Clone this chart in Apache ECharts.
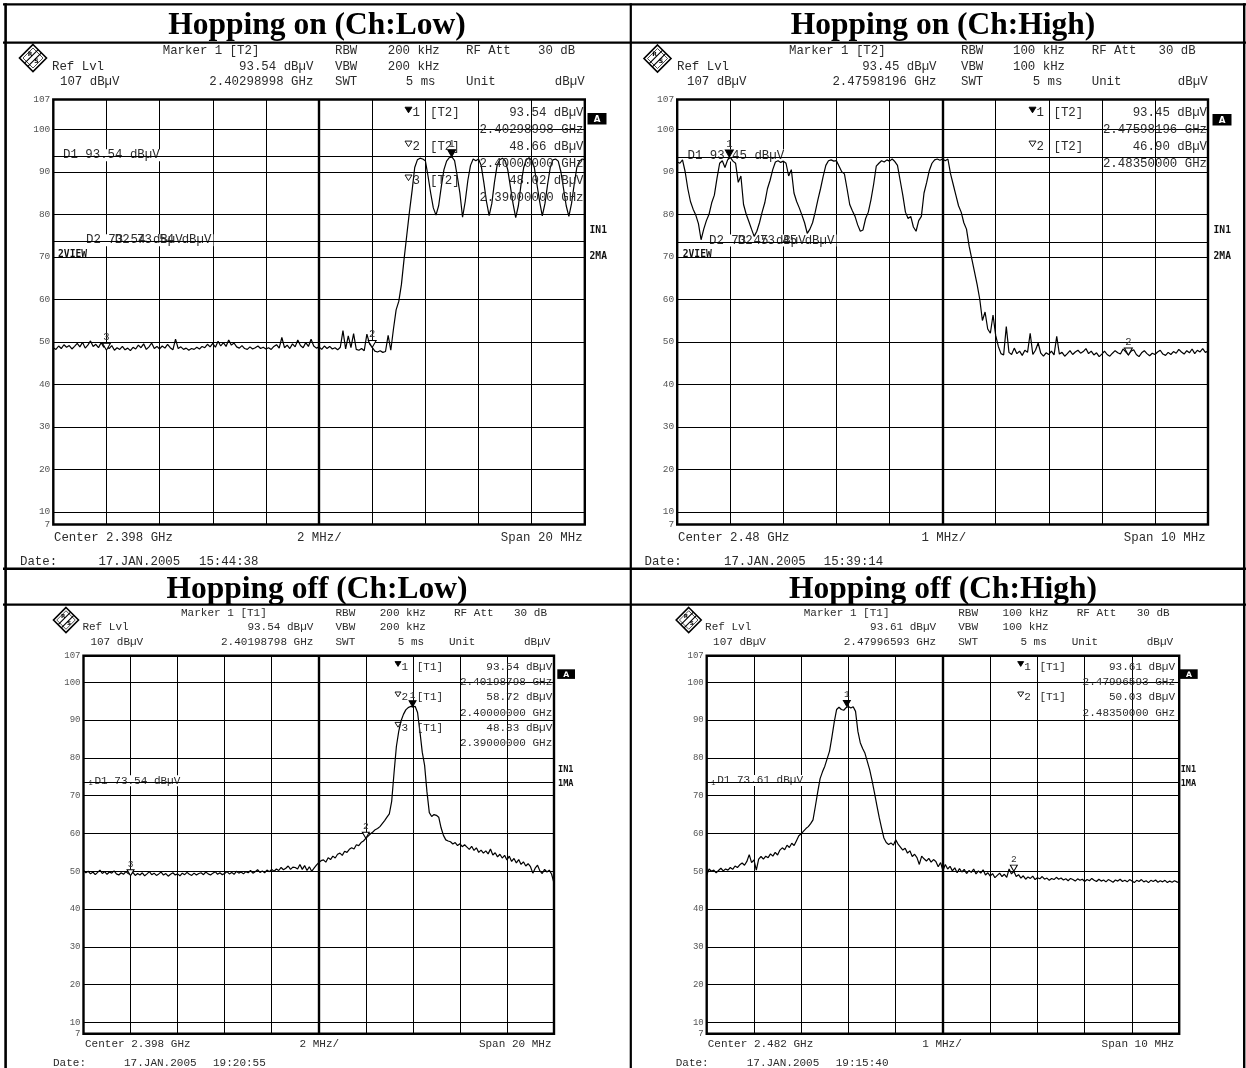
<!DOCTYPE html>
<html>
<head>
<meta charset="utf-8">
<title>Hopping spectra</title>
<script src="https://cdn.jsdelivr.net/npm/echarts@6.0.0/dist/echarts.min.js"></script>
<style>
html,body{margin:0;padding:0;background:#fff;}
#chart{width:1246px;height:1068px;}
</style>
</head>
<body>
<div id="chart"></div>
<script>
// ================= DATA =================
const panelTitles = ['Hopping on (Ch:Low)', 'Hopping on (Ch:High)', 'Hopping off (Ch:Low)', 'Hopping off (Ch:High)'];
const freqMin = [2388, 2475, 2388, 2477];      // MHz
const freqMax = [2408, 2485, 2408, 2487];
const freqDiv = [2, 1, 2, 1];
const freqCenter = [2398, 2480, 2398, 2482];
const sweepStep = [0.1, 0.05, 0.1, 0.05];      // MHz between trace points
const levelMin = 7, levelMax = 107;           // dBuV

const q1Level = [
48.6,48.2,49.0,48.4,49.3,48.7,49.1,48.3,48.9,49.6,
48.8,49.9,48.5,49.2,50.2,48.9,49.4,48.6,49.8,48.7,
49.0,48.4,49.1,48.0,48.6,48.2,48.9,48.1,48.5,47.9,
48.7,48.3,49.2,48.6,49.5,48.2,48.8,49.7,48.4,48.9,
48.3,49.0,48.5,49.4,48.6,48.1,50.6,48.4,48.8,48.2,
48.5,48.0,48.4,48.2,48.7,48.3,48.9,48.6,49.4,48.8,
49.6,48.7,50.1,49.0,49.8,48.9,50.4,49.2,49.7,48.8,
48.5,49.1,48.4,48.2,48.8,48.3,48.6,49.0,48.4,48.7,
48.3,48.6,48.2,48.9,49.3,48.5,51.0,48.6,49.2,48.4,
49.5,48.8,50.4,49.1,48.6,49.8,48.9,50.6,49.0,48.5,
48.8,48.2,49.0,48.4,48.9,48.3,48.6,48.1,48.7,52.6,
48.3,51.4,48.6,51.9,48.2,48.0,48.4,47.9,51.8,49.5,
48.7,47.8,47.6,47.9,47.5,47.7,51.5,48.0,53.0,57.5,
59.5,63.5,69.5,75.0,80.5,85.5,91.0,92.8,93.2,93.0,
92.6,89.0,85.0,81.5,79.8,82.0,86.5,90.5,92.5,93.3,
93.5,92.6,89.0,85.0,79.3,83.0,88.0,91.5,93.0,92.6,
93.0,91.5,87.5,83.0,79.7,82.5,87.5,91.5,92.8,93.2,
92.6,90.5,86.5,82.5,79.2,82.0,87.0,91.0,92.8,93.3,
92.7,91.0,87.0,83.0,79.6,82.5,87.0,91.0,92.8,93.0,
92.5,90.0,86.0,82.0,79.5,82.5,87.0,91.0,92.5,93.0,
92.8];

const q2Level = [
92.3,92.0,92.8,90.0,86.0,83.0,81.2,79.8,77.8,74.0,
76.5,78.5,80.0,82.7,84.5,88.5,92.0,92.6,91.0,92.8,
93.4,92.5,92.0,87.5,89.0,82.3,80.0,78.3,76.5,74.8,
76.0,78.0,80.5,82.7,86.0,88.0,90.5,92.3,92.6,92.2,
92.5,92.0,89.0,90.5,85.0,83.0,81.5,79.8,78.0,75.5,
76.5,78.0,80.5,83.4,86.0,88.9,91.5,92.6,92.8,92.5,
92.6,91.3,90.0,89.5,86.0,82.3,80.8,79.5,77.5,76.0,
76.3,79.0,80.5,83.4,87.0,91.3,92.0,92.6,92.3,92.8,
92.5,93.0,92.4,91.5,88.0,84.5,80.5,79.0,79.5,77.0,
76.0,78.5,79.5,85.0,87.5,90.3,92.0,92.8,93.0,92.7,
93.0,92.6,93.0,89.5,87.0,84.5,82.0,80.5,78.0,76.5,
72.5,69.5,66.5,63.5,60.0,55.0,57.0,53.0,52.0,56.3,
51.5,48.9,47.2,46.9,53.6,47.5,47.0,48.5,47.2,47.8,
46.8,48.0,47.5,52.0,47.0,48.0,49.7,47.3,46.6,47.4,
47.0,47.8,46.9,51.3,47.1,47.5,46.6,47.2,47.9,47.0,
47.6,48.0,47.3,47.7,48.4,47.2,47.8,46.9,47.4,46.5,
47.1,47.8,47.0,46.6,47.3,47.9,47.4,47.1,48.3,47.6,
46.9,47.8,48.1,47.0,46.5,47.4,47.9,47.2,46.7,47.3,
47.0,47.6,48.0,47.1,46.8,47.5,47.0,47.7,47.3,48.2,
47.6,47.1,47.9,47.4,48.3,47.2,48.0,47.6,48.4,47.5,
47.8];

const q3Level = [
50.2,49.6,50.0,49.3,49.8,49.1,49.7,50.3,49.4,49.9,
49.2,49.8,49.5,50.1,49.3,49.0,49.6,49.2,49.9,49.4,
49.1,49.7,48.9,49.4,49.0,49.6,48.8,49.3,49.9,49.1,
49.5,48.9,49.3,49.8,49.0,49.4,48.7,49.2,49.6,49.0,
49.3,48.8,49.5,49.1,49.7,49.2,48.9,49.5,49.0,49.4,
49.6,49.1,49.8,49.3,49.0,49.5,49.9,49.2,49.6,49.1,
49.4,49.9,49.3,49.7,49.2,50.0,49.5,49.8,49.3,49.9,
49.6,50.2,49.5,49.9,50.4,49.7,50.1,49.6,50.3,49.9,
50.5,50.0,50.6,50.2,51.0,50.4,50.8,51.4,50.5,51.1,
51.0,50.6,51.8,50.5,51.5,50.2,51.2,50.0,50.8,51.6,
52.3,52.8,53.0,52.4,53.6,53.1,54.0,53.5,54.5,54.8,
54.2,55.3,55.0,55.8,56.2,55.9,57.0,56.8,57.6,58.0,
58.7,59.3,59.9,60.4,61.0,61.3,61.8,62.6,63.4,64.3,
65.2,68.5,76.0,83.0,87.0,89.8,91.5,92.7,93.3,93.6,
93.5,93.6,92.0,87.0,81.5,78.0,71.0,65.5,64.5,65.0,
64.8,64.3,61.5,59.5,58.3,58.0,57.8,57.2,57.6,56.8,
57.3,56.5,57.0,56.4,55.8,56.6,55.5,56.2,55.0,55.6,
54.8,55.4,54.6,55.9,54.3,54.9,53.8,54.5,53.5,54.2,
53.0,54.0,52.6,53.4,52.2,53.1,51.8,52.5,51.4,52.0,
51.2,49.5,50.8,51.6,50.1,49.4,50.5,49.8,50.3,49.2,
46.9];

const q4Level = [
49.0,50.6,50.0,50.3,49.6,50.2,50.8,50.1,50.6,50.3,
51.0,50.5,51.4,51.0,51.7,52.2,51.6,52.6,54.4,52.3,
53.0,50.3,53.2,53.9,53.2,54.0,53.6,54.6,54.0,55.0,
54.3,55.6,56.2,55.7,56.9,56.3,57.4,56.8,58.1,59.4,
59.9,60.6,61.3,61.8,62.6,63.6,67.2,71.0,74.5,76.3,
77.8,79.8,81.8,85.5,89.5,92.8,93.4,92.8,92.6,93.3,
93.6,93.2,93.5,92.3,87.0,84.0,82.5,81.2,79.0,76.8,
74.0,70.8,67.5,64.3,61.5,58.8,57.6,57.1,57.5,56.9,
58.3,57.2,56.4,55.6,56.1,54.8,55.4,53.9,54.5,53.6,
51.8,54.0,53.3,52.7,53.4,52.4,53.1,52.6,51.2,52.3,
50.2,51.8,50.6,51.3,50.1,50.9,49.6,50.7,49.8,50.5,
49.4,50.2,49.7,50.6,49.3,50.1,49.5,50.4,49.0,49.6,
48.7,49.4,48.3,48.9,49.5,48.6,49.2,48.4,50.6,49.3,
50.0,48.6,49.1,48.2,48.8,47.9,48.5,48.1,48.7,47.8,
48.3,48.0,48.6,47.9,48.2,47.6,48.1,47.8,48.4,47.9,
48.2,47.7,48.0,47.5,48.1,47.8,47.4,48.0,47.6,47.9,
47.3,47.8,47.5,48.1,47.6,47.3,47.9,47.4,47.7,47.2,
47.8,47.5,47.1,47.7,47.4,47.9,47.3,47.6,47.2,47.8,
47.4,47.0,47.6,47.3,47.8,47.2,47.5,47.0,47.6,47.3,
47.7,47.1,47.5,47.2,47.6,47.0,47.4,47.1,47.5,47.2,
47.0];

const q1MarkerFreq = [2.40298998, 2.40000000, 2.39000000];   // GHz
const q1MarkerLevel = [93.54, 48.66, 48.02];
const q2MarkerFreq = [2.47598196, 2.48350000];
const q2MarkerLevel = [93.45, 46.90];
const q3MarkerFreq = [2.40198798, 2.40000000, 2.39000000];
const q3MarkerLevel = [93.54, 58.72, 48.83];
const q4MarkerFreq = [2.47996593, 2.48350000];
const q4MarkerLevel = [93.61, 50.03];

const q1DisplayLines = [93.54, 73.54];
const q2DisplayLines = [93.45, 73.45];
const q3DisplayLines = [73.54];
const q4DisplayLines = [73.61];

const rbwText = ['200 kHz', '100 kHz', '200 kHz', '100 kHz'];
const traceTag = ['[T2]', '[T2]', '[T1]', '[T1]'];
const centerText = ['Center 2.398 GHz', 'Center 2.48 GHz', 'Center 2.398 GHz', 'Center 2.482 GHz'];
const divText = ['2 MHz/', '1 MHz/', '2 MHz/', '1 MHz/'];
const spanText = ['Span 20 MHz', 'Span 10 MHz', 'Span 20 MHz', 'Span 10 MHz'];
const dateText = ['17.JAN.2005', '17.JAN.2005', '17.JAN.2005', '17.JAN.2005'];
const timeText = ['15:44:38', '15:39:14', '19:20:55', '19:15:40'];
const maText = ['2MA', '2MA', '1MA', '1MA'];

// ================= LAYOUT =================
const plots = [
  {left: 53.3, top: 99.5, width: 531.5, height: 425},
  {left: 677.2, top: 99.5, width: 530.8, height: 425},
  {left: 83.5, top: 655.8, width: 470.5, height: 378},
  {left: 706.7, top: 655.8, width: 472.5, height: 378}
];
const top0 = {
  fs: 12.4, axFs: 9.5, rows: [51, 66.7, 82],
  hdr: {marker: 162.7, rbwLbl: 335, rbwVal: 387.7, att: 466, attVal: 538, ref: 52, valR: 313.4, ref2: 60, swtVal: 405.8, unit: 466, unitR: 584.6},
  logo: [33, 58, 13.5],
  tbl: {tri: 405, num: 412.5, tag: 430, right: 583.5, y0: 113, dy: 16.95, ts: 7},
  abox: [587.5, 113, 19, 11.5], in1: [589.5, 230], ma: [589.5, 256], view: 58, dl: [62, 85],
  foot: {y1: 537.7, y2: 561.7, center: 54, div: 297, spanR: 582.6, date: 20, dateV: 98.4, time: 199}
};
const top1 = {
  fs: 12.4, axFs: 9.5, rows: [51, 66.7, 82],
  hdr: {marker: 789, rbwLbl: 961, rbwVal: 1013, att: 1091.7, attVal: 1158.5, ref: 677, valR: 936.5, ref2: 687, swtVal: 1032.7, unit: 1091.7, unitR: 1207.6},
  logo: [657.5, 58.5, 13.5],
  tbl: {tri: 1029, num: 1036.5, tag: 1053.5, right: 1207, y0: 113, dy: 16.95, ts: 7},
  abox: [1212.5, 114, 19, 11.5], in1: [1213.5, 230], ma: [1213.5, 256], view: 682.7, dl: [686.5, 708],
  foot: {y1: 537.7, y2: 561.7, center: 678, div: 921.5, spanR: 1205.6, date: 644.5, dateV: 724, time: 823.7}
};
function shiftBottom(dx) {
  return {
    fs: 11, axFs: 9, rows: [613.3, 627.5, 641.7],
    hdr: {marker: 181 + dx, rbwLbl: 335.5 + dx, rbwVal: 379.7 + dx, att: 454 + dx, attVal: 514 + dx, ref: 82.4 + dx, valR: 313.4 + dx, ref2: 90.4 + dx, swtVal: 397.7 + dx, unit: 449 + dx, unitR: 550.4 + dx},
    logo: [66 + dx, 620, 12.5],
    tbl: {tri: 395 + dx, num: 401.5 + dx, tag: 416.7 + dx, right: 552.3 + dx, y0: 667, dy: 15.2, ts: 6},
    abox: [557.3 + dx, 669.3, 17.7, 9.6], in1: [558 + dx, 770], ma: [558 + dx, 784], view: null, dl: [88.5 + dx],
    foot: {y1: 1044.5, y2: 1063, center: 85 + dx, div: 299.5 + dx, spanR: 551.5 + dx, date: 53 + dx, dateV: 124 + dx, time: 213 + dx}
  };
}
const lay = [top0, top1, shiftBottom(0), shiftBottom(622.7)];

const levels = [q1Level, q2Level, q3Level, q4Level];
const markerFreq = [q1MarkerFreq, q2MarkerFreq, q3MarkerFreq, q4MarkerFreq];
const markerLevel = [q1MarkerLevel, q2MarkerLevel, q3MarkerLevel, q4MarkerLevel];
const displayLines = [q1DisplayLines, q2DisplayLines, q3DisplayLines, q4DisplayLines];

const MONO = '"Liberation Mono", "DejaVu Sans Mono", monospace';
const downTri = 'path://M0,0L10,0L5,9Z';

// ================= OPTION =================
const option = {
  backgroundColor: '#ffffff',
  animation: false,
  grid: plots.map(p => ({
    left: p.left, top: p.top, width: p.width, height: p.height,
    show: true, borderColor: '#000', borderWidth: 2.4, backgroundColor: 'transparent',
    containLabel: false, outerBoundsMode: 'none'
  })),
  xAxis: plots.map((p, k) => ({
    type: 'value', gridIndex: k, min: freqMin[k], max: freqMax[k], interval: freqDiv[k],
    axisLine: {show: false}, axisTick: {show: false}, axisLabel: {show: false},
    splitLine: {show: true, lineStyle: {color: '#000', width: 1, type: 'solid'}}
  })),
  yAxis: plots.map((p, k) => ({
    type: 'value', gridIndex: k, min: levelMin, max: levelMax, splitNumber: 10,
    axisLine: {show: false}, axisTick: {show: false},
    axisLabel: {show: true, showMinLabel: true, showMaxLabel: true, hideOverlap: false,
      color: '#555', fontSize: lay[k].axFs, fontFamily: MONO, margin: 3},
    splitLine: {show: true, lineStyle: {color: '#000', width: 1, type: 'solid'}}
  })),
  series: []
};

levels.forEach((lv, k) => {
  const pts = lv.map((v, i) => [freqMin[k] + i * sweepStep[k], v]);
  // grid centre line + display lines
  option.series.push({
    type: 'line', xAxisIndex: k, yAxisIndex: k, data: [], z: 1, silent: true,
    markLine: {
      silent: true, symbol: ['none', 'none'], animation: false, label: {show: false},
      data: [{xAxis: freqCenter[k], lineStyle: {color: '#000', width: 2.4, type: 'solid'}}]
        .concat(displayLines[k].map(v => ({yAxis: v, lineStyle: {color: '#000', width: 1, type: 'solid'}})))
    }
  });
  // trace
  option.series.push({
    type: 'line', xAxisIndex: k, yAxisIndex: k, data: pts, z: 3,
    showSymbol: false, symbol: 'none', silent: true,
    lineStyle: {color: '#000', width: 1.2},
    markPoint: {
      silent: true, animation: false,
      data: markerFreq[k].map((f, j) => ({
        coord: [f * 1000, markerLevel[k][j]],
        symbol: downTri, symbolSize: k < 2 ? [8, 7] : [7, 6], symbolOffset: [0, k < 2 ? -3.5 : -3],
        itemStyle: {color: j === 0 ? '#000' : '#fff', borderColor: '#000', borderWidth: 1},
        label: {show: true, formatter: String(j + 1), position: 'top', distance: 0,
          color: '#333', fontSize: k < 2 ? 10.5 : 9.5, fontFamily: MONO}
      }))
    }
  });
});

const chart = echarts.init(document.getElementById('chart'), null, {renderer: 'canvas'});
chart.setOption(option);

// ================= ANNOTATIONS =================
function font(size, bold, fam) { return (bold ? 'bold ' : '') + size + 'px ' + (fam || MONO); }
function T(x, y, text, f, align, extra) {
  const el = {type: 'text', x: x, y: y, z: 20, silent: true,
    style: {text: text, font: f, fill: '#2b2b2b', align: align || 'left', verticalAlign: 'middle'}};
  if (extra) Object.assign(el.style, extra);
  return el;
}
function L(x1, y1, x2, y2, w) {
  return {type: 'line', z: 30, silent: true, shape: {x1: x1, y1: y1, x2: x2, y2: y2}, style: {stroke: '#000', lineWidth: w}};
}
function tri(x, y, w, filled) {
  const h = w * 0.8;
  return {type: 'polygon', z: 20, silent: true, shape: {points: [[x, y - h / 2], [x + w, y - h / 2], [x + w / 2, y + h / 2]]},
    style: {fill: filled ? '#000' : '#fff', stroke: '#000', lineWidth: 0.9}};
}
function logo(cx, cy, h) {
  const q = h / 2, o = 1.6;
  return [
    {type: 'polygon', z: 20, silent: true, shape: {points: [[cx, cy - h], [cx + h, cy], [cx, cy + h], [cx - h, cy]]},
      style: {fill: '#fff', stroke: '#000', lineWidth: 1.6}},
    {type: 'polygon', z: 20, silent: true, shape: {points: [[cx, cy - h * 0.74], [cx + h * 0.74, cy], [cx, cy + h * 0.74], [cx - h * 0.74, cy]]},
      style: {fill: 'none', stroke: '#000', lineWidth: 0.7}},
    L(cx + q - o, cy - q - o, cx - q - o, cy + q - o, 1.1),
    L(cx + q + o, cy - q + o, cx - q + o, cy + q + o, 1.1),
    T(cx - q * 0.45, cy - q * 0.55, 'R', font(h * 0.45, true, 'DejaVu Sans'), 'center', {fill: '#000'}),
    T(cx + q * 0.5, cy + q * 0.5, 'S', font(h * 0.45, true, 'DejaVu Sans'), 'center', {fill: '#000'})
  ];
}

const G = [];
// table frame
G.push(L(3, 4.3, 1246, 4.3, 2.2));
G.push(L(5.6, 3.2, 5.6, 1068, 2.6));
G.push(L(1244.2, 3.2, 1244.2, 1068, 2.4));
G.push(L(630.8, 3.2, 630.8, 1068, 2.2));
G.push(L(3, 42.6, 1246, 42.6, 2.4));
G.push(L(3, 568.8, 1246, 568.8, 2.6));
G.push(L(3, 604.6, 1246, 604.6, 2.4));
// titles
const titleX = [317, 943, 317, 943];
const titleY = [25.5, 25.5, 589.5, 589.5];
panelTitles.forEach((t, k) => {
  G.push(T(titleX[k], titleY[k], t, font(31.5, true, '"Liberation Serif", "Times New Roman", serif'), 'center', {fill: '#000'}));
});

lay.forEach((c, k) => {
  const fs = c.fs, F = font(fs), h = c.hdr, r = c.rows;
  const p = plots[k];
  // logo
  logo(c.logo[0], c.logo[1], c.logo[2]).forEach(e => G.push(e));
  // header lines
  G.push(T(h.marker, r[0], 'Marker 1 ' + traceTag[k], F));
  G.push(T(h.rbwLbl, r[0], 'RBW', F));
  G.push(T(h.rbwVal, r[0], rbwText[k], F));
  G.push(T(h.att, r[0], 'RF Att', F));
  G.push(T(h.attVal, r[0], '30 dB', F));
  G.push(T(h.ref, r[1], 'Ref Lvl', F));
  G.push(T(h.valR, r[1], markerLevel[k][0].toFixed(2) + ' dBµV', F, 'right'));
  G.push(T(h.rbwLbl, r[1], 'VBW', F));
  G.push(T(h.rbwVal, r[1], rbwText[k], F));
  G.push(T(h.ref2, r[2], levelMax + ' dBµV', F));
  G.push(T(h.valR, r[2], markerFreq[k][0].toFixed(8) + ' GHz', F, 'right'));
  G.push(T(h.rbwLbl, r[2], 'SWT', F));
  G.push(T(h.swtVal, r[2], '5 ms', F));
  G.push(T(h.unit, r[2], 'Unit', F));
  G.push(T(h.unitR, r[2], 'dBµV', F, 'right'));
  // marker table
  const tb = c.tbl;
  markerFreq[k].forEach((f, j) => {
    const y1 = tb.y0 + tb.dy * 2 * j, y2 = tb.y0 + tb.dy * (2 * j + 1);
    G.push(tri(tb.tri, y1 - 3, tb.ts, j === 0));
    G.push(T(tb.num, y1, String(j + 1), F));
    G.push(T(tb.tag, y1, traceTag[k], F));
    G.push(T(tb.right, y1, markerLevel[k][j].toFixed(2) + ' dBµV', F, 'right'));
    G.push(T(tb.right, y2, f.toFixed(8) + ' GHz', F, 'right'));
  });
  // right side flags
  const ab = c.abox;
  G.push({type: 'rect', z: 20, silent: true, shape: {x: ab[0], y: ab[1], width: ab[2], height: ab[3]}, style: {fill: '#000'}});
  G.push(T(ab[0] + ab[2] / 2, ab[1] + ab[3] / 2 + 0.5, 'A', font(fs * 0.7, true, '"DejaVu Sans"'), 'center', {fill: '#fff'}));
  const bf = font(fs * 0.78, true, '"DejaVu Sans Mono"');
  G.push(T(c.in1[0], c.in1[1], 'IN1', bf, 'left', {fill: '#111'}));
  G.push(T(c.ma[0], c.ma[1], maText[k], bf, 'left', {fill: '#111'}));
  if (c.view !== null) {
    const y70 = chart.convertToPixel({gridIndex: k}, [freqMin[k], 70])[1];
    G.push(T(c.view, y70 - 2, '2VIEW', bf, 'left', {fill: '#111'}));
  }
  // display line labels
  displayLines[k].forEach((v, j) => {
    const yy = chart.convertToPixel({gridIndex: k}, [freqMin[k], v])[1] - 1.5;
    const txt = 'D' + (j + 1) + ' ' + v.toFixed(2) + ' dBµV';
    if (k < 2 && j === 1) {
      const shift = 4 * 0.6 * fs;
      const a = T(c.dl[1], yy, txt, F, 'left', {backgroundColor: '#fff', padding: [0, shift + 1, 0, 1]});
      a.z = 1.5;
      const b = T(c.dl[1] + shift, yy, txt, F, 'left');
      b.z = 1.6;
      G.push(a, b);
    } else if (k < 2) {
      const a = T(c.dl[0], yy, txt, F, 'left', {backgroundColor: '#fff', padding: [0, 1, 0, 1]});
      a.z = 1.5;
      G.push(a);
    } else {
      const a = T(c.dl[0] + 5, yy, txt, F, 'left', {backgroundColor: '#fff', padding: [0, 1, 0, 1]});
      a.z = 1.5;
      const s = T(c.dl[0], yy + 2.5, '1', font(7), 'left');
      s.z = 1.6;
      G.push(a, s);
    }
  });
  // footer
  const ft = c.foot;
  G.push(T(ft.center, ft.y1, centerText[k], F));
  G.push(T(ft.div, ft.y1, divText[k], F));
  G.push(T(ft.spanR, ft.y1, spanText[k], F, 'right'));
  G.push(T(ft.date, ft.y2, 'Date:', F));
  G.push(T(ft.dateV, ft.y2, dateText[k], F));
  G.push(T(ft.time, ft.y2, timeText[k], F));
});

chart.setOption({graphic: {elements: G}});
</script>
</body>
</html>
